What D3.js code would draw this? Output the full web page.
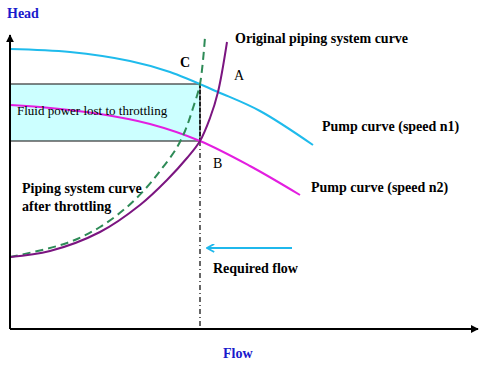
<!DOCTYPE html>
<html>
<head>
<meta charset="utf-8">
<script src="https://cdn.jsdelivr.net/npm/d3@7"></script>
<style>
  body { margin: 0; background: #fff; }
  text { font-family: "Liberation Serif", "Times New Roman", serif; }
</style>
</head>
<body>
<svg id="chart" width="493" height="370"></svg>
<script>
// curves as [flow, head] points (arbitrary units)
let pumpN1 = [[0, 280], [60, 277], [120, 268], [160, 257], [208, 237], [250, 218], [303, 184]]
let pumpN2 = [[0, 224], [30, 222], [90, 215], [140, 205], [190, 188], [240, 163], [290, 134]]
let systemOriginal = [[0, 72], [40, 78], [90, 97], [130, 124], [157, 149], [177, 171], [190, 188], [200, 211], [208, 237], [217, 287]]
let systemThrottled = [[0, 72], [57, 86], [90, 102], [117, 122], [137, 142], [150, 158], [166, 180], [175, 198], [183, 221], [190, 245], [195, 292]]
let requiredFlow = 190
let headC = 245 // head at C (throttled point)
let headB = 188 // head at B

let svg = d3.select('#chart')
let x = d3.scaleLinear().domain([0, 468]).range([10, 478])
let y = d3.scaleLinear().domain([0, 294]).range([329, 35])

let line = d3.line()
  .x(function (d) { return x(d[0]) })
  .y(function (d) { return y(d[1]) })
  .curve(d3.curveCatmullRom)

let defs = svg.append('defs')
defs.append('marker').attr('id', 'arrowBlack')
  .attr('viewBox', '0 0 10 10').attr('refX', 9).attr('refY', 5)
  .attr('markerWidth', 4).attr('markerHeight', 4).attr('orient', 'auto')
  .append('path').attr('d', 'M0,0L10,5L0,10z').attr('fill', '#000')
defs.append('marker').attr('id', 'arrowCyan')
  .attr('viewBox', '0 0 10 10').attr('refX', 9).attr('refY', 5)
  .attr('markerWidth', 9).attr('markerHeight', 9).attr('markerUnits', 'userSpaceOnUse')
  .attr('orient', 'auto')
  .append('path').attr('d', 'M1,0.5L9,5L1,9.5').attr('fill', 'none').attr('stroke', '#1fb8ec').attr('stroke-width', 2)

// shaded rectangle: fluid power lost
svg.append('rect')
  .attr('x', x(0)).attr('y', y(headC))
  .attr('width', x(requiredFlow) - x(0)).attr('height', y(headB) - y(headC))
  .attr('fill', '#ccffff').attr('stroke', '#333').attr('stroke-width', 1.2)

// vertical dashed line at required flow
svg.append('line')
  .attr('x1', x(requiredFlow)).attr('x2', x(requiredFlow))
  .attr('y1', y(headC)).attr('y2', y(headB))
  .attr('stroke', '#000').attr('stroke-width', 1.5).attr('stroke-dasharray', '4,2')
svg.append('line')
  .attr('x1', x(requiredFlow)).attr('x2', x(requiredFlow))
  .attr('y1', y(headB)).attr('y2', y(0))
  .attr('stroke', '#000').attr('stroke-width', 1.2).attr('stroke-dasharray', '5,3,1,3')

// curves
svg.append('path').attr('d', line(pumpN1))
  .attr('fill', 'none').attr('stroke', '#1fbbec').attr('stroke-width', 2)
svg.append('path').attr('d', line(pumpN2))
  .attr('fill', 'none').attr('stroke', '#e31ee0').attr('stroke-width', 2)
svg.append('path').attr('d', line(systemThrottled))
  .attr('fill', 'none').attr('stroke', '#2e8b57').attr('stroke-width', 2).attr('stroke-dasharray', '8,5')
svg.append('path').attr('d', line(systemOriginal))
  .attr('fill', 'none').attr('stroke', '#7b1580').attr('stroke-width', 2)

// axes
svg.append('line').attr('x1', x(0)).attr('x2', x(0)).attr('y1', y(0)).attr('y2', y(294))
  .attr('stroke', '#000').attr('stroke-width', 2).attr('marker-end', 'url(#arrowBlack)')
svg.append('line').attr('x1', x(0)).attr('x2', x(468)).attr('y1', y(0)).attr('y2', y(0))
  .attr('stroke', '#000').attr('stroke-width', 2).attr('marker-end', 'url(#arrowBlack)')

// required flow arrow
svg.append('line').attr('x1', 292).attr('x2', 207).attr('y1', 248).attr('y2', 248)
  .attr('stroke', '#1fb8ec').attr('stroke-width', 2).attr('marker-end', 'url(#arrowCyan)')

// labels
function label(tx, ty, s, opts) {
  opts = opts || {}
  svg.append('text').attr('x', tx).attr('y', ty)
    .attr('font-size', opts.size || 14)
    .attr('font-weight', opts.weight || 'bold')
    .attr('fill', opts.color || '#000')
    .text(s)
}
label(7, 18, 'Head', { color: '#1a1acc' })
label(223, 358, 'Flow', { color: '#1a1acc' })
label(235, 43, 'Original piping system curve')
label(180, 67, 'C')
label(234, 80, 'A', { weight: 'normal' })
label(213, 168, 'B', { weight: 'normal' })
label(17, 115, 'Fluid power lost to throttling', { weight: 'normal', size: 13 })
label(322, 131, 'Pump curve (speed n1)')
label(311, 192, 'Pump curve (speed n2)')
label(22, 193, 'Piping system curve')
label(22, 211, 'after throttling')
label(213, 273, 'Required flow')
</script>
</body>
</html>
